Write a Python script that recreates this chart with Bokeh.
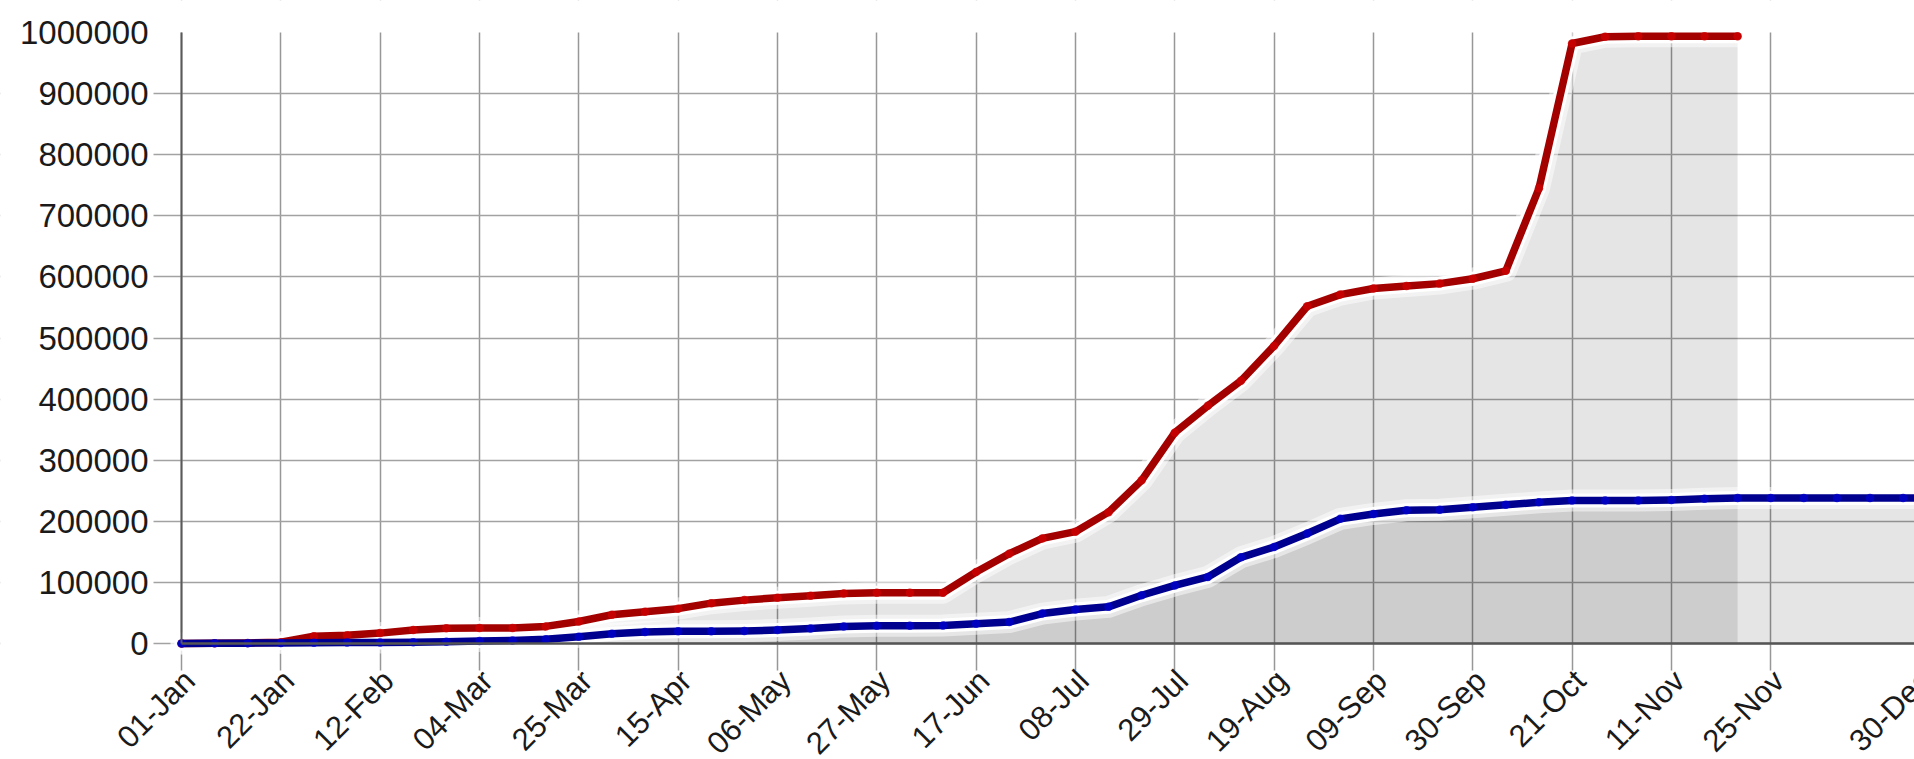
import math
import pandas as pd
from bokeh.plotting import figure
from bokeh.models import (FixedTicker, NumeralTickFormatter, Range1d,
                          ColumnDataSource, LabelSet)
from bokeh.core.properties import value
from bokeh.embed import file_html
from bokeh.resources import INLINE

# ---------------- data ----------------
weeks = [
    "2020-01-01", "2020-01-08", "2020-01-15", "2020-01-22", "2020-01-29",
    "2020-02-05", "2020-02-12", "2020-02-19", "2020-02-26",
    "2020-03-04", "2020-03-11", "2020-03-18", "2020-03-25",
    "2020-04-01", "2020-04-08", "2020-04-15", "2020-04-22", "2020-04-29",
    "2020-05-06", "2020-05-13", "2020-05-20", "2020-05-27",
    "2020-06-03", "2020-06-10", "2020-06-17", "2020-06-24",
    "2020-07-01", "2020-07-08", "2020-07-15", "2020-07-22", "2020-07-29",
    "2020-08-05", "2020-08-12", "2020-08-19", "2020-08-26",
    "2020-09-02", "2020-09-09", "2020-09-16", "2020-09-23", "2020-09-30",
    "2020-10-07", "2020-10-14", "2020-10-21", "2020-10-28",
    "2020-11-04", "2020-11-11", "2020-11-18", "2020-11-25",
    "2020-12-02", "2020-12-09", "2020-12-16", "2020-12-23", "2020-12-30",
    "2021-01-06",
]

red_values = [
    0, 500, 1000, 2000, 12000, 13500, 17000, 22000, 25000,
    25500, 25500, 28000, 36000, 47000, 52000, 57000, 66000, 71000,
    75000, 78000, 82000, 83000, 83000, 83000, 117000, 147000,
    172000, 183000, 215000, 267000, 345000, 389000, 430000, 487000,
    552000, 571000, 581000, 585000, 589000, 597000, 610000, 745000,
    982000, 993000, 994000, 994000, 994000, 994000,
]

blue_values = [
    0, 300, 600, 1000, 1200, 1500, 1800, 2000, 3000,
    4000, 5000, 7000, 11000, 16000, 19000, 20000, 20000, 20500,
    22000, 24500, 28000, 29000, 29000, 29500, 32500, 35000,
    49000, 55500, 60000, 79000, 95000, 109000, 141000, 158000,
    180000, 204000, 212000, 218000, 219000, 223000, 227000, 231000,
    234000, 234000, 234000, 235000, 237000, 238000,
    238000, 238000, 238000, 238000, 238000, 238000,
]

# positions of the labelled ticks as they sit on the axis of the picture
tick_dates = [
    "2020-01-01", "2020-01-22", "2020-02-12", "2020-03-04", "2020-03-25",
    "2020-04-15", "2020-05-06", "2020-05-27", "2020-06-17", "2020-07-08",
    "2020-07-29", "2020-08-19", "2020-09-09", "2020-09-30", "2020-10-21",
    "2020-11-11", "2020-12-02", "2021-01-02",
]
tick_labels = [
    "01-Jan", "22-Jan", "12-Feb", "04-Mar", "25-Mar", "15-Apr", "06-May",
    "27-May", "17-Jun", "08-Jul", "29-Jul", "19-Aug", "09-Sep", "30-Sep",
    "21-Oct", "11-Nov", "25-Nov", "30-Dec",
]
y_ticks = [0, 100000, 200000, 300000, 400000, 500000, 600000, 700000,
           800000, 900000, 1000000]

# ---------------- helpers ----------------
origin = pd.Timestamp("2020-01-01")


def to_days(ds):
    return [(pd.Timestamp(d) - origin).days for d in ds]


week_days = to_days(weeks)
red_days = week_days[:len(red_values)]
tick_days = to_days(tick_dates)

FONT = "Liberation Sans"
TEXT_COLOR = "#1a1a1a"
RED_LINE = "#a30000"
RED_DOT = "#cc0000"
BLUE_LINE = "#00008e"
BLUE_DOT = "#0000cc"

# ---------------- geometry (pixels) ----------------
W, H = 1914, 759
AX_X = 181          # y axis position
TOP_Y = 32          # y = 1 000 000
AX_Y = 643          # x axis position (y = 0)
TICK_LEFT = 28      # grid lines run this far left of the y axis
TICK_DOWN = 27      # grid lines run this far below the x axis
X_END = 366.4       # day shown at the right edge
Y_MAX = 1000000

ppd = (W - AX_X) / X_END            # pixels per day
ppy = (AX_Y - TOP_Y) / Y_MAX        # pixels per unit of value
x0, x1 = -AX_X / ppd, X_END
y0, y1 = -(H - AX_Y) / ppy, Y_MAX + TOP_Y / ppy

p = figure(
    width=W, height=H,
    output_backend="svg", toolbar_location=None,
    x_range=Range1d(x0, x1), y_range=Range1d(y0, y1),
    min_border_left=0, min_border_right=0,
    min_border_top=0, min_border_bottom=0,
)
p.outline_line_color = None
p.background_fill_color = "white"
p.border_fill_color = "white"

# grid lines (they also form the tick marks)
p.xgrid.ticker = FixedTicker(ticks=tick_days)
p.ygrid.ticker = FixedTicker(ticks=y_ticks[:-1])
p.xgrid.grid_line_color = "#979797"
p.ygrid.grid_line_color = "#a2a2a2"
p.xgrid.grid_line_width = 1.5
p.ygrid.grid_line_width = 1.5

# y axis fixed at day 0
ya = p.yaxis[0]
ya.fixed_location = 0
ya.bounds = (0, Y_MAX)
ya.ticker = FixedTicker(ticks=y_ticks)
ya.formatter = NumeralTickFormatter(format="0")
ya.major_tick_out = 0
ya.major_tick_in = 0
ya.minor_tick_out = 0
ya.minor_tick_in = 0
ya.axis_line_color = "#5a5a5a"
ya.axis_line_width = 2
ya.major_label_standoff = 33
ya.major_label_text_font = FONT
ya.major_label_text_font_size = "33px"
ya.major_label_text_color = TEXT_COLOR

# x axis fixed at value 0 (line only; ticks come from the grid)
xa = p.xaxis[0]
xa.fixed_location = 0
xa.bounds = (0, X_END)
xa.ticker = FixedTicker(ticks=[])
xa.major_tick_out = 0
xa.major_tick_in = 0
xa.minor_tick_out = 0
xa.minor_tick_in = 0
xa.axis_line_color = "#555555"
xa.axis_line_width = 2.5

# white masks: keep grid lines inside the chart area plus their tick stubs
tick_left = -TICK_LEFT / ppd
tick_bottom = -TICK_DOWN / ppy
p.quad(left=[x0, x0, x0], right=[tick_left, x1, x1],
       bottom=[y0, Y_MAX, y0], top=[y1, y1, tick_bottom],
       fill_color="white", line_color=None)

# area fills
p.varea(x=red_days, y1=0, y2=red_values, fill_color="black", fill_alpha=0.1)
p.varea(x=week_days, y1=0, y2=blue_values, fill_color="black", fill_alpha=0.1)

# white halos
for xs, ys in ((red_days, red_values), (week_days, blue_values)):
    p.line(xs, ys, line_color="white", line_width=22, line_alpha=0.5,
           line_join="round", line_cap="round")
    p.line(xs, ys, line_color="white", line_width=14, line_alpha=0.95,
           line_join="round", line_cap="round")

# lines + markers
p.line(red_days, red_values, line_color=RED_LINE, line_width=7.5,
       line_join="round", line_cap="round")
p.scatter(red_days, red_values, size=8.5, fill_color=RED_DOT,
          line_color=None, fill_alpha=0.8)
p.line(week_days, blue_values, line_color=BLUE_LINE, line_width=7.5,
       line_join="round", line_cap="round")
p.scatter(week_days, blue_values, size=8.5, fill_color=BLUE_DOT,
          line_color=None, fill_alpha=0.8)

# rotated date labels under the x axis
label_y = -32 / ppy
lab_src = ColumnDataSource(dict(x=tick_days, y=[label_y] * len(tick_days),
                                text=tick_labels))
p.add_layout(LabelSet(
    x="x", y="y", text="text", source=lab_src,
    x_offset=8, angle=math.pi / 4,
    text_align="right", text_baseline="middle",
    text_font=value(FONT), text_font_size="31px", text_color=TEXT_COLOR,
))

open("out.html", "w").write(file_html(p, INLINE))
